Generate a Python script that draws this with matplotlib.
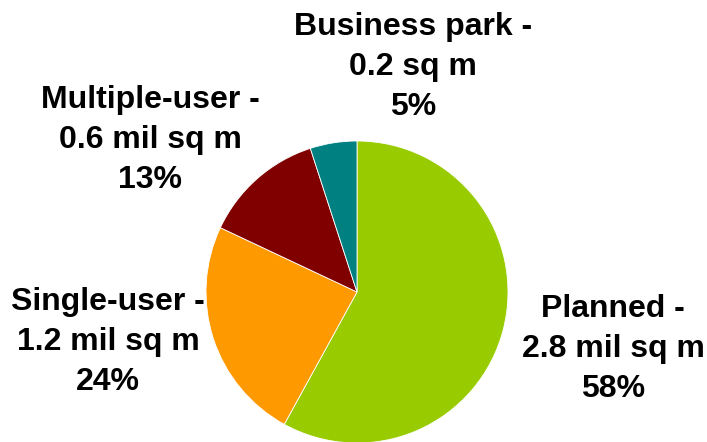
import matplotlib
matplotlib.use("Agg")
import matplotlib.pyplot as plt

categories = ["Planned", "Single-user", "Multiple-user", "Business park"]
areas = ["2.8 mil sq m", "1.2 mil sq m", "0.6 mil sq m", "0.2 sq m"]
shares = [58, 24, 13, 5]
colors = ["#99CC00", "#FF9900", "#800000", "#008080"]

W, H = 707, 442
fig = plt.figure(figsize=(W / 100, H / 100), dpi=100)
cx, cy, r = 357, 292, 151
ax = fig.add_axes([(cx - r) / W, (H - cy - r) / H, 2 * r / W, 2 * r / H])
ax.pie(shares, colors=colors, startangle=90, counterclock=False, radius=1,
       wedgeprops=dict(linewidth=0.6, edgecolor="white"))
ax.set_xlim(-1, 1)
ax.set_ylim(-1, 1)
ax.set_aspect("equal")
ax.axis("off")

label_pos = {
    "Planned": (613, 349),
    "Single-user": (108, 342),
    "Multiple-user": (150, 140),
    "Business park": (413, 67),
}
for cat, area, s in zip(categories, areas, shares):
    x, y = label_pos[cat]
    fig.text(x / W, 1 - y / H, f"{cat} -\n{area}\n{s}%", ha="center", va="center",
             fontsize=23, fontweight="bold", family="Liberation Sans",
             linespacing=1.43, color="black")

fig.savefig("out.png", dpi=100)
